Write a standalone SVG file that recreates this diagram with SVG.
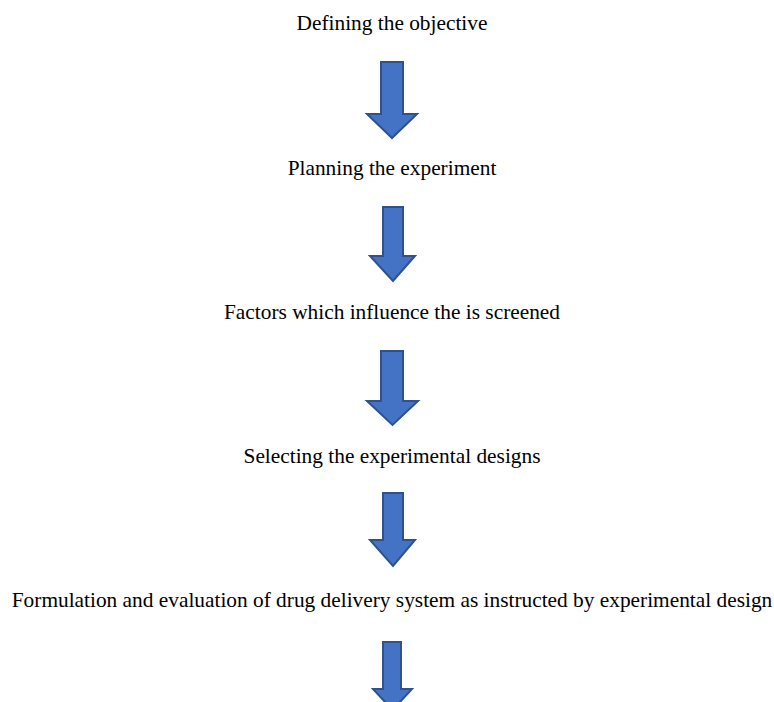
<svg xmlns="http://www.w3.org/2000/svg" width="774" height="702" viewBox="0 0 774 702">
<style>
.t{font-family:"Liberation Serif","Times New Roman",serif;font-size:21.35px;fill:#000;text-anchor:middle}
.a{fill:#4472C4;stroke:#2F528F;stroke-width:2;stroke-linejoin:miter}
</style>
<rect width="774" height="702" fill="#fff"/>
<g id="n1"><text class="t" x="392" y="30">Defining the objective</text></g>
<g id="n2"><text class="t" x="392" y="175">Planning the experiment</text></g>
<g id="n3"><text class="t" x="392" y="319">Factors which influence the is screened</text></g>
<g id="n4"><text class="t" x="392" y="463">Selecting the experimental designs</text></g>
<g id="n5"><text class="t" x="392" y="606.5">Formulation and evaluation of drug delivery system as instructed by experimental design</text></g>
<g id="connectors">
<polygon class="a" points="381,62 403,62 403,114 417,114 392,138 367,114 381,114"/>
<polygon class="a" points="383,207 403,207 403,256 415,256 393,281 370,256 383,256"/>
<polygon class="a" points="381,351 403,351 403,401 418,401 392.5,425 367,401 381,401"/>
<polygon class="a" points="383,493 403,493 403,540 415,540 393,566 370,540 383,540"/>
<polygon class="a" points="383,642 401,642 401,689 412,689 392.5,710 373,689 383,689"/>
</g>
</svg>
